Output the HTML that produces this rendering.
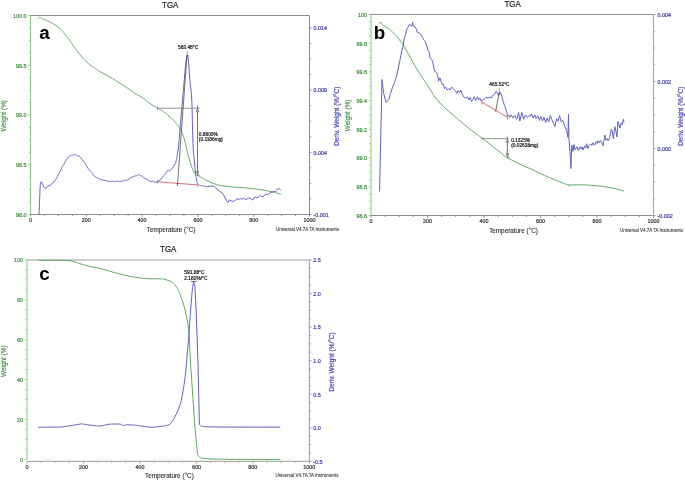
<!DOCTYPE html>
<html><head><meta charset="utf-8"><style>
html,body{margin:0;padding:0;background:#fff;}
svg{display:block;font-family:'Liberation Sans', sans-serif;will-change:transform;}
</style></head><body>
<svg width="685" height="481" viewBox="0 0 685 481">
<rect width="685" height="481" fill="#fff"/>
<line x1="30.50" y1="15.50" x2="309.50" y2="15.50" stroke="#8e8e8e" stroke-width="1"/>
<line x1="30.50" y1="214.50" x2="309.50" y2="214.50" stroke="#8e8e8e" stroke-width="1"/>
<line x1="30.50" y1="15.50" x2="30.50" y2="214.50" stroke="#8cc68c" stroke-width="1"/>
<line x1="309.50" y1="15.50" x2="309.50" y2="214.50" stroke="#8282c3" stroke-width="1"/>
<line x1="28.30" y1="15.50" x2="30.50" y2="15.50" stroke="#8cc68c" stroke-width="1"/>
<text x="0.00" y="0.00" font-size="5.9" fill="#3f8f3f" text-anchor="end" font-weight="normal" stroke="#3f8f3f" stroke-width="0.22" transform="translate(26.40 17.80) scale(0.915 1)">100.0</text>
<line x1="28.30" y1="65.25" x2="30.50" y2="65.25" stroke="#8cc68c" stroke-width="1"/>
<text x="0.00" y="0.00" font-size="5.9" fill="#3f8f3f" text-anchor="end" font-weight="normal" stroke="#3f8f3f" stroke-width="0.22" transform="translate(26.40 67.55) scale(0.915 1)">99.5</text>
<line x1="28.30" y1="115.00" x2="30.50" y2="115.00" stroke="#8cc68c" stroke-width="1"/>
<text x="0.00" y="0.00" font-size="5.9" fill="#3f8f3f" text-anchor="end" font-weight="normal" stroke="#3f8f3f" stroke-width="0.22" transform="translate(26.40 117.30) scale(0.915 1)">99.0</text>
<line x1="28.30" y1="164.75" x2="30.50" y2="164.75" stroke="#8cc68c" stroke-width="1"/>
<text x="0.00" y="0.00" font-size="5.9" fill="#3f8f3f" text-anchor="end" font-weight="normal" stroke="#3f8f3f" stroke-width="0.22" transform="translate(26.40 167.05) scale(0.915 1)">98.5</text>
<line x1="28.30" y1="214.50" x2="30.50" y2="214.50" stroke="#8cc68c" stroke-width="1"/>
<text x="0.00" y="0.00" font-size="5.9" fill="#3f8f3f" text-anchor="end" font-weight="normal" stroke="#3f8f3f" stroke-width="0.22" transform="translate(26.40 216.80) scale(0.915 1)">98.0</text>
<line x1="28.90" y1="27.94" x2="30.50" y2="27.94" stroke="#8cc68c" stroke-width="1"/>
<line x1="28.90" y1="40.38" x2="30.50" y2="40.38" stroke="#8cc68c" stroke-width="1"/>
<line x1="28.90" y1="52.81" x2="30.50" y2="52.81" stroke="#8cc68c" stroke-width="1"/>
<line x1="28.90" y1="77.69" x2="30.50" y2="77.69" stroke="#8cc68c" stroke-width="1"/>
<line x1="28.90" y1="90.12" x2="30.50" y2="90.12" stroke="#8cc68c" stroke-width="1"/>
<line x1="28.90" y1="102.56" x2="30.50" y2="102.56" stroke="#8cc68c" stroke-width="1"/>
<line x1="28.90" y1="127.44" x2="30.50" y2="127.44" stroke="#8cc68c" stroke-width="1"/>
<line x1="28.90" y1="139.88" x2="30.50" y2="139.88" stroke="#8cc68c" stroke-width="1"/>
<line x1="28.90" y1="152.31" x2="30.50" y2="152.31" stroke="#8cc68c" stroke-width="1"/>
<line x1="28.90" y1="177.19" x2="30.50" y2="177.19" stroke="#8cc68c" stroke-width="1"/>
<line x1="28.90" y1="189.62" x2="30.50" y2="189.62" stroke="#8cc68c" stroke-width="1"/>
<line x1="28.90" y1="202.06" x2="30.50" y2="202.06" stroke="#8cc68c" stroke-width="1"/>
<line x1="309.50" y1="27.94" x2="311.70" y2="27.94" stroke="#8282c3" stroke-width="1"/>
<text x="0.00" y="0.00" font-size="5.9" fill="#3b3ba0" text-anchor="start" font-weight="normal" stroke="#3b3ba0" stroke-width="0.22" transform="translate(313.40 30.24) scale(0.915 1)">0.014</text>
<line x1="309.50" y1="90.13" x2="311.70" y2="90.13" stroke="#8282c3" stroke-width="1"/>
<text x="0.00" y="0.00" font-size="5.9" fill="#3b3ba0" text-anchor="start" font-weight="normal" stroke="#3b3ba0" stroke-width="0.22" transform="translate(313.40 92.43) scale(0.915 1)">0.009</text>
<line x1="309.50" y1="152.31" x2="311.70" y2="152.31" stroke="#8282c3" stroke-width="1"/>
<text x="0.00" y="0.00" font-size="5.9" fill="#3b3ba0" text-anchor="start" font-weight="normal" stroke="#3b3ba0" stroke-width="0.22" transform="translate(313.40 154.61) scale(0.915 1)">0.004</text>
<line x1="309.50" y1="214.50" x2="311.70" y2="214.50" stroke="#8282c3" stroke-width="1"/>
<text x="0.00" y="0.00" font-size="5.9" fill="#3b3ba0" text-anchor="start" font-weight="normal" stroke="#3b3ba0" stroke-width="0.22" transform="translate(313.40 216.80) scale(0.915 1)">-0.001</text>
<line x1="309.50" y1="43.48" x2="311.10" y2="43.48" stroke="#8282c3" stroke-width="1"/>
<line x1="309.50" y1="59.03" x2="311.10" y2="59.03" stroke="#8282c3" stroke-width="1"/>
<line x1="309.50" y1="74.58" x2="311.10" y2="74.58" stroke="#8282c3" stroke-width="1"/>
<line x1="309.50" y1="105.67" x2="311.10" y2="105.67" stroke="#8282c3" stroke-width="1"/>
<line x1="309.50" y1="121.22" x2="311.10" y2="121.22" stroke="#8282c3" stroke-width="1"/>
<line x1="309.50" y1="136.77" x2="311.10" y2="136.77" stroke="#8282c3" stroke-width="1"/>
<line x1="309.50" y1="167.86" x2="311.10" y2="167.86" stroke="#8282c3" stroke-width="1"/>
<line x1="309.50" y1="183.41" x2="311.10" y2="183.41" stroke="#8282c3" stroke-width="1"/>
<line x1="309.50" y1="198.95" x2="311.10" y2="198.95" stroke="#8282c3" stroke-width="1"/>
<line x1="30.50" y1="214.50" x2="30.50" y2="216.70" stroke="#8e8e8e" stroke-width="1"/>
<text x="0.00" y="0.00" font-size="5.9" fill="#333" text-anchor="middle" font-weight="normal" stroke="#333" stroke-width="0.22" transform="translate(30.50 221.80) scale(0.915 1)">0</text>
<line x1="86.30" y1="214.50" x2="86.30" y2="216.70" stroke="#8e8e8e" stroke-width="1"/>
<text x="0.00" y="0.00" font-size="5.9" fill="#333" text-anchor="middle" font-weight="normal" stroke="#333" stroke-width="0.22" transform="translate(86.30 221.80) scale(0.915 1)">200</text>
<line x1="142.10" y1="214.50" x2="142.10" y2="216.70" stroke="#8e8e8e" stroke-width="1"/>
<text x="0.00" y="0.00" font-size="5.9" fill="#333" text-anchor="middle" font-weight="normal" stroke="#333" stroke-width="0.22" transform="translate(142.10 221.80) scale(0.915 1)">400</text>
<line x1="197.90" y1="214.50" x2="197.90" y2="216.70" stroke="#8e8e8e" stroke-width="1"/>
<text x="0.00" y="0.00" font-size="5.9" fill="#333" text-anchor="middle" font-weight="normal" stroke="#333" stroke-width="0.22" transform="translate(197.90 221.80) scale(0.915 1)">600</text>
<line x1="253.70" y1="214.50" x2="253.70" y2="216.70" stroke="#8e8e8e" stroke-width="1"/>
<text x="0.00" y="0.00" font-size="5.9" fill="#333" text-anchor="middle" font-weight="normal" stroke="#333" stroke-width="0.22" transform="translate(253.70 221.80) scale(0.915 1)">800</text>
<line x1="309.50" y1="214.50" x2="309.50" y2="216.70" stroke="#8e8e8e" stroke-width="1"/>
<text x="0.00" y="0.00" font-size="5.9" fill="#333" text-anchor="middle" font-weight="normal" stroke="#333" stroke-width="0.22" transform="translate(309.50 221.80) scale(0.915 1)">1000</text>
<line x1="44.45" y1="214.50" x2="44.45" y2="216.00" stroke="#8e8e8e" stroke-width="1"/>
<line x1="58.40" y1="214.50" x2="58.40" y2="216.00" stroke="#8e8e8e" stroke-width="1"/>
<line x1="72.35" y1="214.50" x2="72.35" y2="216.00" stroke="#8e8e8e" stroke-width="1"/>
<line x1="100.25" y1="214.50" x2="100.25" y2="216.00" stroke="#8e8e8e" stroke-width="1"/>
<line x1="114.20" y1="214.50" x2="114.20" y2="216.00" stroke="#8e8e8e" stroke-width="1"/>
<line x1="128.15" y1="214.50" x2="128.15" y2="216.00" stroke="#8e8e8e" stroke-width="1"/>
<line x1="156.05" y1="214.50" x2="156.05" y2="216.00" stroke="#8e8e8e" stroke-width="1"/>
<line x1="170.00" y1="214.50" x2="170.00" y2="216.00" stroke="#8e8e8e" stroke-width="1"/>
<line x1="183.95" y1="214.50" x2="183.95" y2="216.00" stroke="#8e8e8e" stroke-width="1"/>
<line x1="211.85" y1="214.50" x2="211.85" y2="216.00" stroke="#8e8e8e" stroke-width="1"/>
<line x1="225.80" y1="214.50" x2="225.80" y2="216.00" stroke="#8e8e8e" stroke-width="1"/>
<line x1="239.75" y1="214.50" x2="239.75" y2="216.00" stroke="#8e8e8e" stroke-width="1"/>
<line x1="267.65" y1="214.50" x2="267.65" y2="216.00" stroke="#8e8e8e" stroke-width="1"/>
<line x1="281.60" y1="214.50" x2="281.60" y2="216.00" stroke="#8e8e8e" stroke-width="1"/>
<line x1="295.55" y1="214.50" x2="295.55" y2="216.00" stroke="#8e8e8e" stroke-width="1"/>
<text x="170.20" y="7.90" font-size="8.4" fill="#222" text-anchor="middle" font-weight="normal" stroke="#222" stroke-width="0.22" textLength="16.3" lengthAdjust="spacingAndGlyphs">TGA</text>
<text x="39.20" y="38.70" font-size="18.8" fill="#000" text-anchor="start" font-weight="bold">a</text>
<text x="6.40" y="115.80" font-size="6.4" fill="#3f8f3f" text-anchor="middle" font-weight="normal" stroke="#3f8f3f" stroke-width="0.15" transform="rotate(-90 6.40 115.80)">Weight (%)</text>
<text x="339.00" y="116.30" font-size="6.5" fill="#3b3ba0" text-anchor="middle" font-weight="normal" stroke="#3b3ba0" stroke-width="0.15" transform="rotate(-90 339.00 116.30)">Deriv. Weight (%/°C)</text>
<text x="171.10" y="231.60" font-size="6.35" fill="#2a2a2a" text-anchor="middle" font-weight="normal" stroke="#2a2a2a" stroke-width="0.1">Temperature (°C)</text>
<text x="276.00" y="230.50" font-size="4.5" fill="#333" text-anchor="start" font-weight="normal" stroke="#333" stroke-width="0.08">Universal V4.7A TA Instruments</text>
<polyline points="38.50,18.40 38.60,18.28 38.74,18.11 38.90,17.91 39.07,17.71 39.25,17.53 39.40,17.40 39.52,17.30 39.62,17.20 39.71,17.13 39.83,17.10 39.98,17.11 40.20,17.20 40.47,17.37 40.76,17.61 41.09,17.91 41.48,18.24 41.94,18.58 42.50,18.90 43.18,19.21 43.97,19.53 44.83,19.85 45.73,20.19 46.64,20.53 47.50,20.90 48.33,21.28 49.17,21.67 50.01,22.08 50.84,22.50 51.67,22.94 52.50,23.40 53.34,23.88 54.18,24.39 55.02,24.91 55.85,25.44 56.65,25.98 57.40,26.50 58.10,27.00 58.75,27.49 59.38,27.97 59.98,28.47 60.59,29.01 61.20,29.60 61.82,30.25 62.44,30.95 63.05,31.69 63.66,32.45 64.28,33.22 64.90,34.00 65.53,34.78 66.16,35.57 66.80,36.38 67.44,37.20 68.07,38.04 68.70,38.90 69.32,39.80 69.94,40.74 70.56,41.69 71.17,42.65 71.78,43.59 72.40,44.50 73.02,45.37 73.63,46.21 74.24,47.04 74.86,47.86 75.48,48.67 76.10,49.50 76.73,50.34 77.36,51.19 78.00,52.04 78.64,52.88 79.27,53.70 79.90,54.50 80.52,55.28 81.14,56.04 81.75,56.78 82.36,57.51 82.98,58.21 83.60,58.90 84.23,59.56 84.86,60.21 85.50,60.83 86.14,61.44 86.77,62.03 87.40,62.60 88.02,63.16 88.64,63.71 89.25,64.24 89.86,64.76 90.48,65.24 91.10,65.70 91.74,66.12 92.40,66.50 93.07,66.86 93.72,67.21 94.33,67.55 94.90,67.90 95.35,68.23 95.67,68.52 95.97,68.81 96.31,69.13 96.80,69.52 97.50,70.00 98.50,70.62 99.73,71.36 101.10,72.16 102.50,72.97 103.84,73.74 105.00,74.40 105.94,74.92 106.73,75.34 107.45,75.71 108.18,76.09 109.00,76.54 110.00,77.10 111.19,77.80 112.52,78.58 113.94,79.43 115.41,80.32 116.88,81.22 118.30,82.10 119.68,82.97 121.07,83.86 122.45,84.75 123.83,85.66 125.22,86.57 126.60,87.50 127.98,88.45 129.36,89.43 130.74,90.42 132.13,91.41 133.51,92.38 134.90,93.30 136.31,94.18 137.76,95.02 139.20,95.84 140.62,96.65 142.00,97.46 143.30,98.30 144.51,99.16 145.63,100.04 146.71,100.92 147.77,101.80 148.86,102.67 150.00,103.50 151.22,104.31 152.49,105.11 153.78,105.89 155.07,106.66 156.32,107.39 157.50,108.10 158.61,108.75 159.66,109.35 160.68,109.92 161.68,110.50 162.68,111.12 163.70,111.80 164.75,112.56 165.81,113.37 166.87,114.22 167.92,115.09 168.94,115.95 169.90,116.80 170.82,117.63 171.70,118.47 172.55,119.30 173.37,120.13 174.15,120.97 174.90,121.80 175.62,122.64 176.30,123.49 176.96,124.34 177.57,125.18 178.16,126.00 178.70,126.80 179.19,127.55 179.63,128.24 180.03,128.93 180.41,129.62 180.80,130.37 181.20,131.20 181.62,132.10 182.04,133.04 182.46,134.03 182.87,135.08 183.29,136.20 183.70,137.40 184.12,138.73 184.55,140.20 184.97,141.74 185.39,143.28 185.76,144.75 186.10,146.10 186.37,147.27 186.57,148.32 186.74,149.30 186.92,150.28 187.13,151.33 187.40,152.50 187.75,153.83 188.14,155.27 188.58,156.78 189.02,158.30 189.47,159.79 189.90,161.20 190.32,162.55 190.73,163.88 191.15,165.18 191.57,166.43 191.98,167.61 192.40,168.70 192.82,169.72 193.23,170.67 193.65,171.56 194.07,172.36 194.48,173.08 194.90,173.70 195.29,174.18 195.64,174.51 195.99,174.76 196.38,174.97 196.84,175.20 197.40,175.50 198.08,175.87 198.86,176.26 199.70,176.67 200.59,177.10 201.50,177.54 202.40,178.00 203.31,178.49 204.24,179.01 205.19,179.55 206.16,180.09 207.13,180.61 208.10,181.10 209.06,181.56 210.00,182.00 210.95,182.42 211.92,182.83 212.93,183.22 214.00,183.60 215.07,183.97 216.11,184.32 217.20,184.66 218.39,184.99 219.73,185.30 221.30,185.60 223.15,185.88 225.23,186.16 227.48,186.41 229.81,186.66 232.14,186.88 234.40,187.10 236.60,187.29 238.80,187.45 241.00,187.59 243.20,187.74 245.40,187.90 247.60,188.10 249.79,188.32 251.97,188.56 254.16,188.81 256.34,189.09 258.52,189.38 260.70,189.70 262.96,190.05 265.31,190.44 267.66,190.86 269.91,191.28 271.99,191.70 273.80,192.10 275.35,192.52 276.73,192.96 277.92,193.40 278.93,193.81 279.76,194.15 280.40,194.40" fill="none" stroke="#62a866" stroke-width="1" stroke-linejoin="round" stroke-linecap="round"/>
<polyline points="39.10,213.98 39.15,212.51 39.23,210.58 39.31,207.86 39.41,205.19 39.51,202.54 39.60,199.84 39.69,197.55 39.79,195.02 39.88,192.51 39.98,189.71 40.09,187.64 40.20,185.80 40.32,184.89 40.46,183.93 40.60,182.99 40.74,183.04 40.88,182.72 41.00,182.28 41.11,182.04 41.21,181.75 41.31,181.73 41.40,182.10 41.50,181.99 41.60,182.15 41.70,182.20 41.80,182.11 41.90,182.35 42.01,182.41 42.14,182.78 42.30,182.91 42.49,183.44 42.70,184.01 42.92,184.82 43.17,185.46 43.43,186.05 43.70,186.95 43.99,187.38 44.30,187.68 44.62,187.94 44.95,187.99 45.28,188.11 45.60,188.19 45.92,188.00 46.25,188.13 46.58,187.64 46.90,187.51 47.21,186.94 47.50,186.93 47.77,186.60 48.02,185.89 48.26,185.71 48.49,185.81 48.70,185.39 48.90,185.54 49.06,185.28 49.18,185.29 49.29,185.79 49.41,186.07 49.57,185.93 49.80,185.79 50.12,185.66 50.51,185.57 50.94,184.96 51.39,184.11 51.82,183.68 52.20,183.20 52.53,182.89 52.84,183.04 53.13,182.55 53.41,182.56 53.70,182.27 54.00,181.85 54.32,181.73 54.64,180.97 54.97,180.73 55.30,179.96 55.61,179.62 55.90,179.06 56.16,178.67 56.40,178.64 56.63,178.18 56.85,177.55 57.07,177.43 57.30,176.66 57.53,176.26 57.75,175.96 57.97,175.30 58.20,174.47 58.44,174.37 58.70,173.46 58.99,173.00 59.30,172.81 59.62,172.15 59.95,171.68 60.28,171.06 60.60,170.50 60.92,170.05 61.24,169.08 61.56,168.42 61.87,167.47 62.19,166.74 62.50,166.33 62.80,165.58 63.10,165.22 63.40,165.03 63.70,164.36 64.00,163.98 64.30,163.90 64.61,163.30 64.93,162.39 65.24,161.69 65.56,161.30 65.88,160.78 66.20,159.85 66.52,159.74 66.83,159.27 67.15,158.73 67.47,158.27 67.78,157.75 68.10,157.37 68.41,157.48 68.72,156.78 69.02,156.68 69.34,156.16 69.66,156.18 70.00,155.85 70.35,155.54 70.72,155.37 71.09,155.58 71.48,155.20 71.88,155.23 72.30,155.33 72.74,155.38 73.21,155.13 73.69,154.85 74.18,155.06 74.65,154.65 75.10,154.56 75.53,154.77 75.95,155.02 76.36,155.02 76.76,155.29 77.14,155.59 77.50,155.84 77.82,155.68 78.11,155.80 78.38,156.05 78.65,156.11 78.95,156.05 79.30,156.30 79.71,156.62 80.16,156.91 80.64,157.44 81.13,158.05 81.62,159.12 82.10,159.60 82.58,160.28 83.07,160.36 83.56,161.22 84.03,161.69 84.49,162.37 84.90,162.71 85.27,163.60 85.60,163.69 85.91,164.48 86.20,165.13 86.49,165.76 86.80,166.22 87.11,166.74 87.40,167.33 87.69,167.93 88.00,168.19 88.33,168.88 88.70,169.50 89.12,169.98 89.59,170.24 90.08,170.90 90.57,171.40 91.05,171.74 91.50,172.26 91.91,172.67 92.30,173.33 92.68,173.92 93.04,174.21 93.42,175.01 93.80,175.65 94.18,175.98 94.53,176.24 94.89,176.37 95.28,176.82 95.71,177.03 96.20,177.27 96.77,177.81 97.39,177.78 98.06,178.48 98.76,178.46 99.47,179.07 100.20,179.29 100.94,179.40 101.72,179.83 102.51,179.90 103.31,180.12 104.11,180.43 104.90,180.28 105.70,180.37 106.52,180.76 107.34,181.20 108.13,181.18 108.86,181.34 109.50,181.80 110.03,181.67 110.47,181.46 110.84,181.53 111.19,181.09 111.53,181.13 111.90,180.85 112.29,181.01 112.67,181.31 113.06,181.51 113.44,181.63 113.82,181.50 114.20,181.64 114.58,181.46 114.96,181.26 115.34,181.30 115.73,181.32 116.11,181.22 116.50,181.11 116.88,181.27 117.25,181.04 117.62,181.13 118.01,181.42 118.44,181.44 118.90,181.46 119.43,181.53 120.03,181.55 120.66,181.37 121.28,181.15 121.87,181.28 122.40,181.24 122.84,180.88 123.21,180.58 123.55,180.46 123.89,180.78 124.26,180.26 124.70,180.50 125.23,180.37 125.82,180.20 126.44,180.41 127.07,179.96 127.67,179.91 128.20,179.88 128.65,179.36 129.04,179.36 129.40,178.61 129.76,178.09 130.15,177.62 130.60,177.56 131.13,177.21 131.73,177.08 132.36,176.92 132.98,176.84 133.57,176.77 134.10,176.49 134.55,176.13 134.96,176.17 135.32,175.95 135.68,175.78 136.03,175.92 136.40,175.91 136.78,175.45 137.16,175.24 137.54,175.01 137.93,174.94 138.31,174.68 138.70,174.66 139.08,174.78 139.45,174.73 139.82,175.13 140.21,175.43 140.64,175.30 141.10,176.02 141.62,176.24 142.19,176.32 142.78,176.89 143.39,177.39 144.00,177.94 144.60,178.04 145.20,178.47 145.83,178.95 146.45,179.21 147.05,179.58 147.61,179.62 148.10,179.98 148.53,180.01 148.92,180.53 149.27,180.82 149.57,180.95 149.81,181.17 150.00,181.48 150.45,181.51 151.09,181.47 151.82,181.16 152.50,181.40 153.12,181.29 153.75,182.01 154.38,182.27 155.00,182.09 155.62,181.94 156.25,182.14 156.88,182.07 157.50,181.99 158.12,181.44 158.75,180.65 159.38,180.67 160.00,179.59 160.62,179.54 161.25,178.50 161.88,177.97 162.50,177.60 163.12,176.43 163.75,175.68 164.38,175.14 165.00,174.46 165.64,173.55 166.29,172.35 166.92,171.55 167.50,170.59 168.00,170.82 168.44,170.50 168.86,170.93 169.30,171.22 169.75,170.78 170.21,170.64 170.68,170.02 171.20,169.32 171.80,168.86 172.45,167.90 173.10,166.91 173.70,166.12 174.23,165.59 174.73,164.75 175.19,163.33 175.60,162.75 175.98,161.55 176.32,159.79 176.60,158.48 176.80,157.50 176.95,156.66 177.16,155.46 177.41,154.06 177.67,152.59 177.91,151.19 178.10,150.00 178.20,149.48 178.23,149.63 178.24,149.84 178.29,149.54 178.42,148.12 178.70,145.00 179.17,139.48 179.81,131.90 180.54,123.21 181.29,114.36 181.96,106.31 182.50,100.00 182.88,95.64 183.17,92.50 183.39,90.15 183.58,88.17 183.77,86.13 184.00,83.60 184.26,80.54 184.51,77.27 184.77,73.94 185.04,70.70 185.31,67.67 185.60,65.00 185.91,62.51 186.24,60.06 186.57,57.82 186.91,55.99 187.22,54.75 187.50,54.30 187.74,54.75 187.94,55.99 188.12,57.82 188.30,60.06 188.49,62.51 188.70,65.00 188.93,67.67 189.17,70.70 189.43,73.94 189.68,77.27 189.94,80.54 190.20,83.60 190.47,86.13 190.74,88.17 191.02,90.15 191.29,92.50 191.56,95.64 191.80,100.00 192.02,106.19 192.23,113.99 192.42,122.59 192.61,131.16 192.80,138.91 193.00,145.00 193.21,149.25 193.43,152.27 193.65,154.46 193.87,156.21 194.09,157.92 194.30,160.00 194.51,162.47 194.73,165.03 194.94,167.56 195.15,169.92 195.34,172.01 195.50,173.70 195.63,174.88 195.73,175.63 195.81,176.09 195.89,176.44 195.98,176.82 196.10,177.40 196.24,178.19 196.39,179.06 196.54,179.97 196.71,180.87 196.90,181.70 197.10,182.40 197.32,182.98 197.56,183.49 197.81,183.92 198.07,184.30 198.33,184.62 198.60,184.90 198.85,185.11 199.07,185.24 199.30,185.31 199.56,185.36 199.89,185.42 200.30,185.50 200.82,185.61 201.44,185.74 202.11,185.86 202.82,185.99 203.52,186.10 204.20,186.20 204.90,186.29 205.64,186.37 206.39,186.44 207.09,186.51 207.68,186.56 208.10,186.60 210.00,186.00 212.10,186.40 213.80,186.10 215.40,187.50 217.00,189.00 218.70,190.80 220.60,192.00 222.60,193.40 224.00,195.80 225.20,198.00 226.60,200.80 227.90,202.60 229.00,200.30 229.80,200.00 231.00,201.20 231.80,200.60 233.20,201.60 234.40,201.00 235.60,199.80 237.00,198.70 238.40,199.60 240.30,198.50 242.00,199.20 243.60,198.00 245.20,199.50 246.90,199.10 248.60,198.00 250.20,198.20 251.50,199.40 252.80,200.00 254.00,197.80 254.80,196.70 256.50,197.90 258.10,197.30 259.50,196.20 260.70,195.40 262.00,196.90 263.30,196.70 264.60,195.00 266.00,194.00 267.30,194.60 268.60,194.00 270.00,192.60 271.20,192.10 272.50,192.40 273.80,191.40 275.20,191.60 276.50,190.80 277.50,189.00 278.40,188.10 279.40,188.90 280.40,190.10" fill="none" stroke="#6262bc" stroke-width="1" stroke-linejoin="round" stroke-linecap="round"/>
<line x1="157.50" y1="108.20" x2="199.80" y2="108.20" stroke="#8a8a8a" stroke-width="0.9"/>
<line x1="157.50" y1="106.40" x2="157.50" y2="110.00" stroke="#888" stroke-width="0.8"/>
<line x1="197.50" y1="105.30" x2="197.50" y2="175.30" stroke="#666" stroke-width="0.9"/>
<path d="M196.0,112.0 L197.5,107.8 L199.0,112.0 Z" fill="#999" stroke="#777" stroke-width="0.5"/>
<path d="M196.0,171.2 L197.5,175.3 L199.0,171.2 Z" fill="#999" stroke="#777" stroke-width="0.5"/>
<line x1="197.00" y1="175.30" x2="200.00" y2="175.30" stroke="#777" stroke-width="0.7"/>
<line x1="157.50" y1="181.80" x2="197.40" y2="184.90" stroke="#d06060" stroke-width="0.9"/>
<line x1="157.50" y1="180.00" x2="157.50" y2="183.60" stroke="#d06060" stroke-width="0.8"/>
<line x1="197.40" y1="183.10" x2="197.40" y2="186.70" stroke="#d06060" stroke-width="0.8"/>
<line x1="177.40" y1="186.00" x2="187.00" y2="55.00" stroke="#333" stroke-width="0.7"/>
<line x1="187.30" y1="51.00" x2="187.30" y2="54.00" stroke="#ee7070" stroke-width="0.9"/>
<text x="188.10" y="48.60" font-size="4.85" fill="#222" text-anchor="middle" font-weight="normal" stroke="#222" stroke-width="0.22">563.48°C</text>
<text x="198.80" y="135.80" font-size="4.8" fill="#222" text-anchor="start" font-weight="normal" stroke="#222" stroke-width="0.22">0.8800%</text>
<text x="198.80" y="140.60" font-size="4.8" fill="#222" text-anchor="start" font-weight="normal" stroke="#222" stroke-width="0.22">(0.1186mg)</text>
<line x1="371.00" y1="14.50" x2="653.50" y2="14.50" stroke="#8e8e8e" stroke-width="1"/>
<line x1="371.00" y1="215.50" x2="653.50" y2="215.50" stroke="#8e8e8e" stroke-width="1"/>
<line x1="371.00" y1="14.50" x2="371.00" y2="215.50" stroke="#8cc68c" stroke-width="1"/>
<line x1="653.50" y1="14.50" x2="653.50" y2="215.50" stroke="#a0a0c8" stroke-width="1"/>
<line x1="368.80" y1="14.50" x2="371.00" y2="14.50" stroke="#8cc68c" stroke-width="1"/>
<text x="0.00" y="0.00" font-size="5.9" fill="#3f8f3f" text-anchor="end" font-weight="normal" stroke="#3f8f3f" stroke-width="0.22" transform="translate(366.90 16.80) scale(0.915 1)">100</text>
<line x1="368.80" y1="43.21" x2="371.00" y2="43.21" stroke="#8cc68c" stroke-width="1"/>
<text x="0.00" y="0.00" font-size="5.9" fill="#3f8f3f" text-anchor="end" font-weight="normal" stroke="#3f8f3f" stroke-width="0.22" transform="translate(366.90 45.51) scale(0.915 1)">99.8</text>
<line x1="368.80" y1="71.93" x2="371.00" y2="71.93" stroke="#8cc68c" stroke-width="1"/>
<text x="0.00" y="0.00" font-size="5.9" fill="#3f8f3f" text-anchor="end" font-weight="normal" stroke="#3f8f3f" stroke-width="0.22" transform="translate(366.90 74.23) scale(0.915 1)">99.6</text>
<line x1="368.80" y1="100.64" x2="371.00" y2="100.64" stroke="#8cc68c" stroke-width="1"/>
<text x="0.00" y="0.00" font-size="5.9" fill="#3f8f3f" text-anchor="end" font-weight="normal" stroke="#3f8f3f" stroke-width="0.22" transform="translate(366.90 102.94) scale(0.915 1)">99.4</text>
<line x1="368.80" y1="129.36" x2="371.00" y2="129.36" stroke="#8cc68c" stroke-width="1"/>
<text x="0.00" y="0.00" font-size="5.9" fill="#3f8f3f" text-anchor="end" font-weight="normal" stroke="#3f8f3f" stroke-width="0.22" transform="translate(366.90 131.66) scale(0.915 1)">99.2</text>
<line x1="368.80" y1="158.07" x2="371.00" y2="158.07" stroke="#8cc68c" stroke-width="1"/>
<text x="0.00" y="0.00" font-size="5.9" fill="#3f8f3f" text-anchor="end" font-weight="normal" stroke="#3f8f3f" stroke-width="0.22" transform="translate(366.90 160.37) scale(0.915 1)">99.0</text>
<line x1="368.80" y1="186.79" x2="371.00" y2="186.79" stroke="#8cc68c" stroke-width="1"/>
<text x="0.00" y="0.00" font-size="5.9" fill="#3f8f3f" text-anchor="end" font-weight="normal" stroke="#3f8f3f" stroke-width="0.22" transform="translate(366.90 189.09) scale(0.915 1)">98.8</text>
<line x1="368.80" y1="215.50" x2="371.00" y2="215.50" stroke="#8cc68c" stroke-width="1"/>
<text x="0.00" y="0.00" font-size="5.9" fill="#3f8f3f" text-anchor="end" font-weight="normal" stroke="#3f8f3f" stroke-width="0.22" transform="translate(366.90 217.80) scale(0.915 1)">98.6</text>
<line x1="369.40" y1="21.68" x2="371.00" y2="21.68" stroke="#8cc68c" stroke-width="1"/>
<line x1="369.40" y1="28.86" x2="371.00" y2="28.86" stroke="#8cc68c" stroke-width="1"/>
<line x1="369.40" y1="36.04" x2="371.00" y2="36.04" stroke="#8cc68c" stroke-width="1"/>
<line x1="369.40" y1="50.39" x2="371.00" y2="50.39" stroke="#8cc68c" stroke-width="1"/>
<line x1="369.40" y1="57.57" x2="371.00" y2="57.57" stroke="#8cc68c" stroke-width="1"/>
<line x1="369.40" y1="64.75" x2="371.00" y2="64.75" stroke="#8cc68c" stroke-width="1"/>
<line x1="369.40" y1="79.11" x2="371.00" y2="79.11" stroke="#8cc68c" stroke-width="1"/>
<line x1="369.40" y1="86.29" x2="371.00" y2="86.29" stroke="#8cc68c" stroke-width="1"/>
<line x1="369.40" y1="93.46" x2="371.00" y2="93.46" stroke="#8cc68c" stroke-width="1"/>
<line x1="369.40" y1="107.82" x2="371.00" y2="107.82" stroke="#8cc68c" stroke-width="1"/>
<line x1="369.40" y1="115.00" x2="371.00" y2="115.00" stroke="#8cc68c" stroke-width="1"/>
<line x1="369.40" y1="122.18" x2="371.00" y2="122.18" stroke="#8cc68c" stroke-width="1"/>
<line x1="369.40" y1="136.54" x2="371.00" y2="136.54" stroke="#8cc68c" stroke-width="1"/>
<line x1="369.40" y1="143.71" x2="371.00" y2="143.71" stroke="#8cc68c" stroke-width="1"/>
<line x1="369.40" y1="150.89" x2="371.00" y2="150.89" stroke="#8cc68c" stroke-width="1"/>
<line x1="369.40" y1="165.25" x2="371.00" y2="165.25" stroke="#8cc68c" stroke-width="1"/>
<line x1="369.40" y1="172.43" x2="371.00" y2="172.43" stroke="#8cc68c" stroke-width="1"/>
<line x1="369.40" y1="179.61" x2="371.00" y2="179.61" stroke="#8cc68c" stroke-width="1"/>
<line x1="369.40" y1="193.96" x2="371.00" y2="193.96" stroke="#8cc68c" stroke-width="1"/>
<line x1="369.40" y1="201.14" x2="371.00" y2="201.14" stroke="#8cc68c" stroke-width="1"/>
<line x1="369.40" y1="208.32" x2="371.00" y2="208.32" stroke="#8cc68c" stroke-width="1"/>
<line x1="653.50" y1="14.50" x2="655.70" y2="14.50" stroke="#a0a0c8" stroke-width="1"/>
<text x="0.00" y="0.00" font-size="5.9" fill="#3b3ba0" text-anchor="start" font-weight="normal" stroke="#3b3ba0" stroke-width="0.22" transform="translate(657.40 16.80) scale(0.915 1)">0.004</text>
<line x1="653.50" y1="81.50" x2="655.70" y2="81.50" stroke="#a0a0c8" stroke-width="1"/>
<text x="0.00" y="0.00" font-size="5.9" fill="#3b3ba0" text-anchor="start" font-weight="normal" stroke="#3b3ba0" stroke-width="0.22" transform="translate(657.40 83.80) scale(0.915 1)">0.002</text>
<line x1="653.50" y1="148.50" x2="655.70" y2="148.50" stroke="#a0a0c8" stroke-width="1"/>
<text x="0.00" y="0.00" font-size="5.9" fill="#3b3ba0" text-anchor="start" font-weight="normal" stroke="#3b3ba0" stroke-width="0.22" transform="translate(657.40 150.80) scale(0.915 1)">0.000</text>
<line x1="653.50" y1="215.50" x2="655.70" y2="215.50" stroke="#a0a0c8" stroke-width="1"/>
<text x="0.00" y="0.00" font-size="5.9" fill="#3b3ba0" text-anchor="start" font-weight="normal" stroke="#3b3ba0" stroke-width="0.22" transform="translate(657.40 217.80) scale(0.915 1)">-0.002</text>
<line x1="653.50" y1="31.25" x2="655.10" y2="31.25" stroke="#a0a0c8" stroke-width="1"/>
<line x1="653.50" y1="48.00" x2="655.10" y2="48.00" stroke="#a0a0c8" stroke-width="1"/>
<line x1="653.50" y1="64.75" x2="655.10" y2="64.75" stroke="#a0a0c8" stroke-width="1"/>
<line x1="653.50" y1="98.25" x2="655.10" y2="98.25" stroke="#a0a0c8" stroke-width="1"/>
<line x1="653.50" y1="115.00" x2="655.10" y2="115.00" stroke="#a0a0c8" stroke-width="1"/>
<line x1="653.50" y1="131.75" x2="655.10" y2="131.75" stroke="#a0a0c8" stroke-width="1"/>
<line x1="653.50" y1="165.25" x2="655.10" y2="165.25" stroke="#a0a0c8" stroke-width="1"/>
<line x1="653.50" y1="182.00" x2="655.10" y2="182.00" stroke="#a0a0c8" stroke-width="1"/>
<line x1="653.50" y1="198.75" x2="655.10" y2="198.75" stroke="#a0a0c8" stroke-width="1"/>
<line x1="371.00" y1="215.50" x2="371.00" y2="217.70" stroke="#8e8e8e" stroke-width="1"/>
<text x="0.00" y="0.00" font-size="5.9" fill="#333" text-anchor="middle" font-weight="normal" stroke="#333" stroke-width="0.22" transform="translate(371.00 222.80) scale(0.915 1)">0</text>
<line x1="427.50" y1="215.50" x2="427.50" y2="217.70" stroke="#8e8e8e" stroke-width="1"/>
<text x="0.00" y="0.00" font-size="5.9" fill="#333" text-anchor="middle" font-weight="normal" stroke="#333" stroke-width="0.22" transform="translate(427.50 222.80) scale(0.915 1)">200</text>
<line x1="484.00" y1="215.50" x2="484.00" y2="217.70" stroke="#8e8e8e" stroke-width="1"/>
<text x="0.00" y="0.00" font-size="5.9" fill="#333" text-anchor="middle" font-weight="normal" stroke="#333" stroke-width="0.22" transform="translate(484.00 222.80) scale(0.915 1)">400</text>
<line x1="540.50" y1="215.50" x2="540.50" y2="217.70" stroke="#8e8e8e" stroke-width="1"/>
<text x="0.00" y="0.00" font-size="5.9" fill="#333" text-anchor="middle" font-weight="normal" stroke="#333" stroke-width="0.22" transform="translate(540.50 222.80) scale(0.915 1)">600</text>
<line x1="597.00" y1="215.50" x2="597.00" y2="217.70" stroke="#8e8e8e" stroke-width="1"/>
<text x="0.00" y="0.00" font-size="5.9" fill="#333" text-anchor="middle" font-weight="normal" stroke="#333" stroke-width="0.22" transform="translate(597.00 222.80) scale(0.915 1)">800</text>
<line x1="653.50" y1="215.50" x2="653.50" y2="217.70" stroke="#8e8e8e" stroke-width="1"/>
<text x="0.00" y="0.00" font-size="5.9" fill="#333" text-anchor="middle" font-weight="normal" stroke="#333" stroke-width="0.22" transform="translate(653.50 222.80) scale(0.915 1)">1000</text>
<line x1="385.12" y1="215.50" x2="385.12" y2="217.00" stroke="#8e8e8e" stroke-width="1"/>
<line x1="399.25" y1="215.50" x2="399.25" y2="217.00" stroke="#8e8e8e" stroke-width="1"/>
<line x1="413.38" y1="215.50" x2="413.38" y2="217.00" stroke="#8e8e8e" stroke-width="1"/>
<line x1="441.62" y1="215.50" x2="441.62" y2="217.00" stroke="#8e8e8e" stroke-width="1"/>
<line x1="455.75" y1="215.50" x2="455.75" y2="217.00" stroke="#8e8e8e" stroke-width="1"/>
<line x1="469.88" y1="215.50" x2="469.88" y2="217.00" stroke="#8e8e8e" stroke-width="1"/>
<line x1="498.12" y1="215.50" x2="498.12" y2="217.00" stroke="#8e8e8e" stroke-width="1"/>
<line x1="512.25" y1="215.50" x2="512.25" y2="217.00" stroke="#8e8e8e" stroke-width="1"/>
<line x1="526.38" y1="215.50" x2="526.38" y2="217.00" stroke="#8e8e8e" stroke-width="1"/>
<line x1="554.62" y1="215.50" x2="554.62" y2="217.00" stroke="#8e8e8e" stroke-width="1"/>
<line x1="568.75" y1="215.50" x2="568.75" y2="217.00" stroke="#8e8e8e" stroke-width="1"/>
<line x1="582.88" y1="215.50" x2="582.88" y2="217.00" stroke="#8e8e8e" stroke-width="1"/>
<line x1="611.12" y1="215.50" x2="611.12" y2="217.00" stroke="#8e8e8e" stroke-width="1"/>
<line x1="625.25" y1="215.50" x2="625.25" y2="217.00" stroke="#8e8e8e" stroke-width="1"/>
<line x1="639.38" y1="215.50" x2="639.38" y2="217.00" stroke="#8e8e8e" stroke-width="1"/>
<text x="512.60" y="7.00" font-size="8.4" fill="#222" text-anchor="middle" font-weight="normal" stroke="#222" stroke-width="0.22" textLength="16.3" lengthAdjust="spacingAndGlyphs">TGA</text>
<text x="373.80" y="38.70" font-size="18.8" fill="#000" text-anchor="start" font-weight="bold">b</text>
<text x="349.60" y="115.40" font-size="6.4" fill="#3f8f3f" text-anchor="middle" font-weight="normal" stroke="#3f8f3f" stroke-width="0.15" transform="rotate(-90 349.60 115.40)">Weight (%)</text>
<text x="682.60" y="116.30" font-size="6.5" fill="#3b3ba0" text-anchor="middle" font-weight="normal" stroke="#3b3ba0" stroke-width="0.15" transform="rotate(-90 682.60 116.30)">Deriv. Weight (%/°C)</text>
<text x="513.50" y="232.60" font-size="6.35" fill="#2a2a2a" text-anchor="middle" font-weight="normal" stroke="#2a2a2a" stroke-width="0.1">Temperature (°C)</text>
<text x="619.90" y="232.20" font-size="4.5" fill="#333" text-anchor="start" font-weight="normal" stroke="#333" stroke-width="0.08">Universal V4.7A TA Instruments</text>
<polyline points="379.30,23.00 379.47,22.59 379.75,22.07 380.20,22.00 380.89,22.77 381.75,24.00 382.70,25.10 383.74,25.84 384.87,26.47 386.00,27.10 387.10,27.76 388.20,28.44 389.30,29.20 390.40,30.09 391.49,31.07 392.60,32.10 393.73,33.17 394.87,34.30 396.00,35.50 397.11,36.80 398.20,38.17 399.30,39.60 400.40,41.07 401.50,42.59 402.60,44.20 403.72,45.96 404.84,47.80 405.90,49.60 406.89,51.33 407.82,53.02 408.70,54.60 409.50,55.99 410.25,57.27 411.00,58.60 411.70,59.97 412.39,61.40 413.30,63.10 414.56,65.23 416.04,67.63 417.50,70.00 418.87,72.24 420.23,74.46 421.60,76.60 423.00,78.63 424.40,80.59 425.80,82.60 427.22,84.80 428.63,87.05 429.90,89.10 430.98,90.86 431.93,92.41 432.80,93.80 433.48,94.87 434.09,95.77 435.00,97.00 436.46,98.87 438.23,101.06 440.00,103.10 441.67,104.81 443.33,106.37 445.00,107.90 446.67,109.43 448.34,110.93 450.00,112.40 451.64,113.82 453.26,115.21 454.90,116.60 456.56,118.00 458.23,119.40 459.90,120.80 461.56,122.20 463.23,123.61 464.90,125.00 466.60,126.39 468.30,127.76 470.00,129.10 471.67,130.39 473.34,131.65 475.00,132.90 476.67,134.14 478.33,135.36 480.00,136.60 481.67,137.86 483.34,139.14 485.00,140.40 486.64,141.62 488.26,142.83 489.90,144.10 491.56,145.48 493.23,146.92 494.90,148.30 496.60,149.57 498.29,150.79 499.90,152.00 501.42,153.31 502.86,154.61 504.10,155.70 504.84,156.32 505.40,156.72 506.60,157.40 508.87,158.59 511.79,160.05 514.90,161.60 518.29,163.32 521.87,165.13 524.90,166.60 526.83,167.37 528.21,167.80 530.00,168.50 532.66,169.77 535.74,171.30 538.80,172.80 541.70,174.17 544.60,175.51 547.50,176.80 550.40,178.03 553.31,179.21 556.30,180.40 559.63,181.73 563.04,183.07 565.80,184.10 567.30,184.65 568.14,184.89 569.40,185.00 571.40,185.00 573.80,184.87 576.70,184.80 580.33,184.84 584.45,184.94 588.40,185.10 591.91,185.34 595.26,185.64 598.60,186.00 602.05,186.41 605.50,186.89 608.80,187.40 611.95,187.97 614.94,188.59 617.60,189.20 619.97,189.87 622.01,190.53 623.40,191.00" fill="none" stroke="#62a866" stroke-width="1" stroke-linejoin="round" stroke-linecap="round"/>
<line x1="569.30" y1="184.80" x2="569.30" y2="186.80" stroke="#62a866" stroke-width="0.8"/>
<polyline points="379.60,191.60 382.00,79.50 383.60,93.00 386.00,102.40 388.70,99.80 390.50,93.50 392.50,87.30 394.50,82.50 396.20,77.40 398.00,69.50 400.00,59.90 401.80,51.00 403.30,45.30 404.20,38.50 405.50,35.30 406.40,30.30 408.00,27.20 409.50,24.40 410.80,25.40 411.70,26.30 412.70,22.20 413.00,26.00 413.90,26.30 415.50,27.50 416.40,29.40 417.00,32.20 418.00,32.50 419.80,33.50 421.40,35.30 422.60,37.80 424.20,40.30 425.80,42.80 427.00,46.80 428.00,50.10 429.10,52.20 430.10,58.20 431.80,59.60 433.10,63.60 434.50,71.10 436.50,72.40 437.80,75.80 438.50,81.20 439.90,77.80 441.20,81.90 442.30,84.60 443.20,83.90 444.60,88.60 445.90,87.30 447.30,90.00 448.60,88.60 450.00,90.00 451.40,87.30 453.40,88.60 455.40,90.70 456.80,93.40 458.10,90.70 459.50,92.70 460.80,90.00 462.20,94.10 464.20,97.40 466.20,98.10 467.60,96.80 468.90,100.10 470.30,97.40 471.60,101.50 473.00,99.50 474.30,96.80 475.70,100.50 476.60,98.70 477.50,96.80 478.70,100.00 480.00,98.10 481.20,101.20 482.50,100.00 484.40,98.70 486.20,97.40 488.10,98.10 490.00,96.80 491.20,98.10 492.50,95.60 493.70,95.00 495.00,93.70 496.20,91.20 497.40,93.10 498.70,95.60 499.60,91.80 500.60,92.50 501.80,96.80 503.10,101.20 504.30,104.90 505.50,108.00 506.80,112.40 507.40,116.10 508.70,114.90 509.90,117.40 511.20,114.90 513.00,118.00 514.90,115.50 516.80,119.30 518.60,112.40 519.90,121.10 521.80,112.40 523.60,119.30 525.50,114.90 527.40,117.40 529.20,115.50 530.20,116.50 531.60,114.00 533.10,117.90 534.70,114.80 536.20,118.70 537.80,115.60 539.40,120.30 540.90,116.40 542.50,121.10 544.00,117.20 545.60,122.60 547.20,117.90 548.70,121.80 550.30,115.60 551.80,119.50 553.40,123.40 555.00,126.50 556.50,118.70 558.10,121.10 559.60,115.60 561.20,121.80 562.80,120.30 564.30,125.00 565.90,128.90 567.10,132.00 567.90,137.40 568.50,114.00 569.00,139.00 570.20,154.60 570.90,168.60 571.80,145.20 572.90,151.50 574.00,144.50 575.20,149.90 576.80,146.80 578.40,150.70 579.90,146.80 581.00,149.00 582.10,146.90 583.10,150.00 584.70,145.90 585.70,147.90 586.80,143.80 587.80,148.50 589.40,145.30 590.90,143.80 592.00,145.30 593.00,142.70 594.60,145.30 596.10,141.70 597.20,143.30 598.20,140.70 599.20,142.70 600.30,140.70 601.30,141.20 602.90,145.90 603.90,141.20 604.90,135.00 606.00,140.10 607.20,138.60 608.10,140.70 609.60,138.10 611.20,129.20 612.20,130.80 613.30,138.60 614.80,126.60 615.90,130.80 616.90,137.00 618.00,121.40 619.00,124.60 620.00,128.20 621.10,123.00 622.10,124.60 623.50,119.40 623.90,122.50" fill="none" stroke="#6262bc" stroke-width="1" stroke-linejoin="round"/>
<line x1="481.90" y1="102.20" x2="507.70" y2="117.40" stroke="#d06060" stroke-width="0.9"/>
<line x1="481.90" y1="100.20" x2="481.90" y2="104.40" stroke="#d06060" stroke-width="0.8"/>
<line x1="507.70" y1="115.30" x2="507.70" y2="119.50" stroke="#d06060" stroke-width="0.8"/>
<line x1="495.60" y1="111.80" x2="499.30" y2="92.50" stroke="#333" stroke-width="0.7"/>
<line x1="499.30" y1="88.10" x2="499.30" y2="91.80" stroke="#ee7070" stroke-width="0.9"/>
<text x="499.50" y="85.60" font-size="4.85" fill="#222" text-anchor="middle" font-weight="normal" stroke="#222" stroke-width="0.22">465.52°C</text>
<line x1="482.00" y1="138.60" x2="508.60" y2="138.60" stroke="#8a8a8a" stroke-width="0.9"/>
<line x1="482.00" y1="137.00" x2="482.00" y2="140.20" stroke="#888" stroke-width="0.8"/>
<line x1="507.40" y1="136.80" x2="507.40" y2="157.40" stroke="#666" stroke-width="0.9"/>
<path d="M505.9,142.6 L507.4,138.6 L508.9,142.6 Z" fill="#999" stroke="#777" stroke-width="0.5"/>
<path d="M505.9,153.4 L507.4,157.4 L508.9,153.4 Z" fill="#999" stroke="#777" stroke-width="0.5"/>
<line x1="507.00" y1="157.40" x2="509.80" y2="157.40" stroke="#777" stroke-width="0.7"/>
<text x="511.20" y="141.80" font-size="4.8" fill="#222" text-anchor="start" font-weight="normal" stroke="#222" stroke-width="0.22">0.1325%</text>
<text x="511.20" y="147.30" font-size="4.8" fill="#222" text-anchor="start" font-weight="normal" stroke="#222" stroke-width="0.22">(0.02638mg)</text>
<line x1="27.00" y1="260.00" x2="309.30" y2="260.00" stroke="#9a9a9a" stroke-width="1"/>
<line x1="27.00" y1="461.30" x2="309.30" y2="461.30" stroke="#9a9a9a" stroke-width="1"/>
<line x1="27.00" y1="260.00" x2="27.00" y2="459.20" stroke="#8cc68c" stroke-width="1"/>
<line x1="309.30" y1="260.00" x2="309.30" y2="461.30" stroke="#9090c8" stroke-width="1"/>
<line x1="24.80" y1="260.00" x2="27.00" y2="260.00" stroke="#8cc68c" stroke-width="1"/>
<text x="0.00" y="0.00" font-size="5.9" fill="#3f8f3f" text-anchor="end" font-weight="normal" stroke="#3f8f3f" stroke-width="0.22" transform="translate(22.90 262.30) scale(0.915 1)">100</text>
<line x1="24.80" y1="299.84" x2="27.00" y2="299.84" stroke="#8cc68c" stroke-width="1"/>
<text x="0.00" y="0.00" font-size="5.9" fill="#3f8f3f" text-anchor="end" font-weight="normal" stroke="#3f8f3f" stroke-width="0.22" transform="translate(22.90 302.14) scale(0.915 1)">80</text>
<line x1="24.80" y1="339.68" x2="27.00" y2="339.68" stroke="#8cc68c" stroke-width="1"/>
<text x="0.00" y="0.00" font-size="5.9" fill="#3f8f3f" text-anchor="end" font-weight="normal" stroke="#3f8f3f" stroke-width="0.22" transform="translate(22.90 341.98) scale(0.915 1)">60</text>
<line x1="24.80" y1="379.52" x2="27.00" y2="379.52" stroke="#8cc68c" stroke-width="1"/>
<text x="0.00" y="0.00" font-size="5.9" fill="#3f8f3f" text-anchor="end" font-weight="normal" stroke="#3f8f3f" stroke-width="0.22" transform="translate(22.90 381.82) scale(0.915 1)">40</text>
<line x1="24.80" y1="419.36" x2="27.00" y2="419.36" stroke="#8cc68c" stroke-width="1"/>
<text x="0.00" y="0.00" font-size="5.9" fill="#3f8f3f" text-anchor="end" font-weight="normal" stroke="#3f8f3f" stroke-width="0.22" transform="translate(22.90 421.66) scale(0.915 1)">20</text>
<line x1="24.80" y1="459.20" x2="27.00" y2="459.20" stroke="#8cc68c" stroke-width="1"/>
<text x="0.00" y="0.00" font-size="5.9" fill="#3f8f3f" text-anchor="end" font-weight="normal" stroke="#3f8f3f" stroke-width="0.22" transform="translate(22.90 461.50) scale(0.915 1)">0</text>
<line x1="25.40" y1="269.96" x2="27.00" y2="269.96" stroke="#8cc68c" stroke-width="1"/>
<line x1="25.40" y1="279.92" x2="27.00" y2="279.92" stroke="#8cc68c" stroke-width="1"/>
<line x1="25.40" y1="289.88" x2="27.00" y2="289.88" stroke="#8cc68c" stroke-width="1"/>
<line x1="25.40" y1="309.80" x2="27.00" y2="309.80" stroke="#8cc68c" stroke-width="1"/>
<line x1="25.40" y1="319.76" x2="27.00" y2="319.76" stroke="#8cc68c" stroke-width="1"/>
<line x1="25.40" y1="329.72" x2="27.00" y2="329.72" stroke="#8cc68c" stroke-width="1"/>
<line x1="25.40" y1="349.64" x2="27.00" y2="349.64" stroke="#8cc68c" stroke-width="1"/>
<line x1="25.40" y1="359.60" x2="27.00" y2="359.60" stroke="#8cc68c" stroke-width="1"/>
<line x1="25.40" y1="369.56" x2="27.00" y2="369.56" stroke="#8cc68c" stroke-width="1"/>
<line x1="25.40" y1="389.48" x2="27.00" y2="389.48" stroke="#8cc68c" stroke-width="1"/>
<line x1="25.40" y1="399.44" x2="27.00" y2="399.44" stroke="#8cc68c" stroke-width="1"/>
<line x1="25.40" y1="409.40" x2="27.00" y2="409.40" stroke="#8cc68c" stroke-width="1"/>
<line x1="25.40" y1="429.32" x2="27.00" y2="429.32" stroke="#8cc68c" stroke-width="1"/>
<line x1="25.40" y1="439.28" x2="27.00" y2="439.28" stroke="#8cc68c" stroke-width="1"/>
<line x1="25.40" y1="449.24" x2="27.00" y2="449.24" stroke="#8cc68c" stroke-width="1"/>
<line x1="309.30" y1="260.00" x2="311.50" y2="260.00" stroke="#9090c8" stroke-width="1"/>
<text x="0.00" y="0.00" font-size="5.9" fill="#3b3ba0" text-anchor="start" font-weight="normal" stroke="#3b3ba0" stroke-width="0.22" transform="translate(313.20 262.30) scale(0.915 1)">2.5</text>
<line x1="309.30" y1="293.55" x2="311.50" y2="293.55" stroke="#9090c8" stroke-width="1"/>
<text x="0.00" y="0.00" font-size="5.9" fill="#3b3ba0" text-anchor="start" font-weight="normal" stroke="#3b3ba0" stroke-width="0.22" transform="translate(313.20 295.85) scale(0.915 1)">2.0</text>
<line x1="309.30" y1="327.10" x2="311.50" y2="327.10" stroke="#9090c8" stroke-width="1"/>
<text x="0.00" y="0.00" font-size="5.9" fill="#3b3ba0" text-anchor="start" font-weight="normal" stroke="#3b3ba0" stroke-width="0.22" transform="translate(313.20 329.40) scale(0.915 1)">1.5</text>
<line x1="309.30" y1="360.65" x2="311.50" y2="360.65" stroke="#9090c8" stroke-width="1"/>
<text x="0.00" y="0.00" font-size="5.9" fill="#3b3ba0" text-anchor="start" font-weight="normal" stroke="#3b3ba0" stroke-width="0.22" transform="translate(313.20 362.95) scale(0.915 1)">1.0</text>
<line x1="309.30" y1="394.20" x2="311.50" y2="394.20" stroke="#9090c8" stroke-width="1"/>
<text x="0.00" y="0.00" font-size="5.9" fill="#3b3ba0" text-anchor="start" font-weight="normal" stroke="#3b3ba0" stroke-width="0.22" transform="translate(313.20 396.50) scale(0.915 1)">0.5</text>
<line x1="309.30" y1="427.75" x2="311.50" y2="427.75" stroke="#9090c8" stroke-width="1"/>
<text x="0.00" y="0.00" font-size="5.9" fill="#3b3ba0" text-anchor="start" font-weight="normal" stroke="#3b3ba0" stroke-width="0.22" transform="translate(313.20 430.05) scale(0.915 1)">0.0</text>
<line x1="309.30" y1="461.30" x2="311.50" y2="461.30" stroke="#9090c8" stroke-width="1"/>
<text x="0.00" y="0.00" font-size="5.9" fill="#3b3ba0" text-anchor="start" font-weight="normal" stroke="#3b3ba0" stroke-width="0.22" transform="translate(313.20 463.60) scale(0.915 1)">-0.5</text>
<line x1="309.30" y1="268.39" x2="310.90" y2="268.39" stroke="#9090c8" stroke-width="1"/>
<line x1="309.30" y1="276.77" x2="310.90" y2="276.77" stroke="#9090c8" stroke-width="1"/>
<line x1="309.30" y1="285.16" x2="310.90" y2="285.16" stroke="#9090c8" stroke-width="1"/>
<line x1="309.30" y1="301.94" x2="310.90" y2="301.94" stroke="#9090c8" stroke-width="1"/>
<line x1="309.30" y1="310.32" x2="310.90" y2="310.32" stroke="#9090c8" stroke-width="1"/>
<line x1="309.30" y1="318.71" x2="310.90" y2="318.71" stroke="#9090c8" stroke-width="1"/>
<line x1="309.30" y1="335.49" x2="310.90" y2="335.49" stroke="#9090c8" stroke-width="1"/>
<line x1="309.30" y1="343.88" x2="310.90" y2="343.88" stroke="#9090c8" stroke-width="1"/>
<line x1="309.30" y1="352.26" x2="310.90" y2="352.26" stroke="#9090c8" stroke-width="1"/>
<line x1="309.30" y1="369.04" x2="310.90" y2="369.04" stroke="#9090c8" stroke-width="1"/>
<line x1="309.30" y1="377.43" x2="310.90" y2="377.43" stroke="#9090c8" stroke-width="1"/>
<line x1="309.30" y1="385.81" x2="310.90" y2="385.81" stroke="#9090c8" stroke-width="1"/>
<line x1="309.30" y1="402.59" x2="310.90" y2="402.59" stroke="#9090c8" stroke-width="1"/>
<line x1="309.30" y1="410.98" x2="310.90" y2="410.98" stroke="#9090c8" stroke-width="1"/>
<line x1="309.30" y1="419.36" x2="310.90" y2="419.36" stroke="#9090c8" stroke-width="1"/>
<line x1="309.30" y1="436.14" x2="310.90" y2="436.14" stroke="#9090c8" stroke-width="1"/>
<line x1="309.30" y1="444.52" x2="310.90" y2="444.52" stroke="#9090c8" stroke-width="1"/>
<line x1="309.30" y1="452.91" x2="310.90" y2="452.91" stroke="#9090c8" stroke-width="1"/>
<line x1="27.00" y1="461.30" x2="27.00" y2="463.50" stroke="#9a9a9a" stroke-width="1"/>
<text x="0.00" y="0.00" font-size="5.9" fill="#333" text-anchor="middle" font-weight="normal" stroke="#333" stroke-width="0.22" transform="translate(27.00 468.60) scale(0.915 1)">0</text>
<line x1="83.46" y1="461.30" x2="83.46" y2="463.50" stroke="#9a9a9a" stroke-width="1"/>
<text x="0.00" y="0.00" font-size="5.9" fill="#333" text-anchor="middle" font-weight="normal" stroke="#333" stroke-width="0.22" transform="translate(83.46 468.60) scale(0.915 1)">200</text>
<line x1="139.92" y1="461.30" x2="139.92" y2="463.50" stroke="#9a9a9a" stroke-width="1"/>
<text x="0.00" y="0.00" font-size="5.9" fill="#333" text-anchor="middle" font-weight="normal" stroke="#333" stroke-width="0.22" transform="translate(139.92 468.60) scale(0.915 1)">400</text>
<line x1="196.38" y1="461.30" x2="196.38" y2="463.50" stroke="#9a9a9a" stroke-width="1"/>
<text x="0.00" y="0.00" font-size="5.9" fill="#333" text-anchor="middle" font-weight="normal" stroke="#333" stroke-width="0.22" transform="translate(196.38 468.60) scale(0.915 1)">600</text>
<line x1="252.84" y1="461.30" x2="252.84" y2="463.50" stroke="#9a9a9a" stroke-width="1"/>
<text x="0.00" y="0.00" font-size="5.9" fill="#333" text-anchor="middle" font-weight="normal" stroke="#333" stroke-width="0.22" transform="translate(252.84 468.60) scale(0.915 1)">800</text>
<line x1="309.30" y1="461.30" x2="309.30" y2="463.50" stroke="#9a9a9a" stroke-width="1"/>
<text x="0.00" y="0.00" font-size="5.9" fill="#333" text-anchor="middle" font-weight="normal" stroke="#333" stroke-width="0.22" transform="translate(309.30 468.60) scale(0.915 1)">1000</text>
<line x1="41.12" y1="461.30" x2="41.12" y2="462.80" stroke="#9a9a9a" stroke-width="1"/>
<line x1="55.23" y1="461.30" x2="55.23" y2="462.80" stroke="#9a9a9a" stroke-width="1"/>
<line x1="69.34" y1="461.30" x2="69.34" y2="462.80" stroke="#9a9a9a" stroke-width="1"/>
<line x1="97.58" y1="461.30" x2="97.58" y2="462.80" stroke="#9a9a9a" stroke-width="1"/>
<line x1="111.69" y1="461.30" x2="111.69" y2="462.80" stroke="#9a9a9a" stroke-width="1"/>
<line x1="125.81" y1="461.30" x2="125.81" y2="462.80" stroke="#9a9a9a" stroke-width="1"/>
<line x1="154.03" y1="461.30" x2="154.03" y2="462.80" stroke="#9a9a9a" stroke-width="1"/>
<line x1="168.15" y1="461.30" x2="168.15" y2="462.80" stroke="#9a9a9a" stroke-width="1"/>
<line x1="182.26" y1="461.30" x2="182.26" y2="462.80" stroke="#9a9a9a" stroke-width="1"/>
<line x1="210.50" y1="461.30" x2="210.50" y2="462.80" stroke="#9a9a9a" stroke-width="1"/>
<line x1="224.61" y1="461.30" x2="224.61" y2="462.80" stroke="#9a9a9a" stroke-width="1"/>
<line x1="238.72" y1="461.30" x2="238.72" y2="462.80" stroke="#9a9a9a" stroke-width="1"/>
<line x1="266.96" y1="461.30" x2="266.96" y2="462.80" stroke="#9a9a9a" stroke-width="1"/>
<line x1="281.07" y1="461.30" x2="281.07" y2="462.80" stroke="#9a9a9a" stroke-width="1"/>
<line x1="295.19" y1="461.30" x2="295.19" y2="462.80" stroke="#9a9a9a" stroke-width="1"/>
<text x="168.20" y="252.30" font-size="8.4" fill="#222" text-anchor="middle" font-weight="normal" stroke="#222" stroke-width="0.22" textLength="16.3" lengthAdjust="spacingAndGlyphs">TGA</text>
<text x="39.30" y="279.90" font-size="18.8" fill="#000" text-anchor="start" font-weight="bold">c</text>
<text x="6.40" y="361.20" font-size="6.4" fill="#3f8f3f" text-anchor="middle" font-weight="normal" stroke="#3f8f3f" stroke-width="0.15" transform="rotate(-90 6.40 361.20)">Weight (%)</text>
<text x="334.00" y="362.00" font-size="6.5" fill="#3b3ba0" text-anchor="middle" font-weight="normal" stroke="#3b3ba0" stroke-width="0.15" transform="rotate(-90 334.00 362.00)">Deriv. Weight (%/°C)</text>
<text x="169.40" y="478.00" font-size="6.35" fill="#2a2a2a" text-anchor="middle" font-weight="normal" stroke="#2a2a2a" stroke-width="0.1">Temperature (°C)</text>
<text x="275.50" y="477.00" font-size="4.5" fill="#333" text-anchor="start" font-weight="normal" stroke="#333" stroke-width="0.08">Universal V4.7A TA Instruments</text>
<polyline points="38.70,260.30 41.13,260.29 44.58,260.27 48.57,260.26 52.61,260.26 56.20,260.30 59.31,260.32 62.25,260.31 65.10,260.36 67.93,260.53 70.80,260.90 73.67,261.55 76.50,262.42 79.35,263.40 82.29,264.40 85.40,265.30 88.81,266.10 92.47,266.88 96.18,267.63 99.72,268.37 102.90,269.10 105.56,269.82 107.86,270.52 109.99,271.21 112.17,271.90 114.60,272.60 117.33,273.32 120.23,274.06 123.22,274.79 126.23,275.48 129.20,276.10 132.17,276.67 135.20,277.20 138.20,277.67 141.10,278.08 143.80,278.40 146.34,278.60 148.76,278.71 151.04,278.75 153.13,278.76 155.00,278.80 156.62,278.85 158.00,278.88 159.20,278.92 160.28,278.95 161.30,279.00 162.15,279.02 162.78,279.02 163.37,279.04 164.06,279.14 165.00,279.40 166.30,279.80 167.85,280.30 169.50,280.91 171.10,281.64 172.50,282.50 173.68,283.50 174.74,284.64 175.71,285.89 176.62,287.25 177.50,288.70 178.32,290.22 179.07,291.82 179.78,293.53 180.47,295.38 181.20,297.40 181.96,299.54 182.72,301.76 183.48,304.17 184.24,306.85 185.00,309.90 185.78,313.28 186.58,316.92 187.37,320.88 188.09,325.22 188.70,330.00 189.16,335.33 189.50,341.19 189.79,347.38 190.07,353.71 190.40,360.00 190.78,366.18 191.18,372.37 191.60,378.67 192.04,385.18 192.50,392.00 193.02,399.60 193.60,407.92 194.19,416.24 194.74,423.84 195.20,430.00 195.55,434.41 195.83,437.54 196.06,439.88 196.28,441.87 196.50,444.00 196.73,446.29 196.94,448.43 197.15,450.38 197.36,452.08 197.60,453.50 197.81,454.55 198.00,455.27 198.22,455.77 198.53,456.17 199.00,456.60 199.53,457.04 200.09,457.42 200.81,457.75 201.83,458.04 203.30,458.30 205.19,458.53 207.40,458.71 209.98,458.86 212.97,458.99 216.40,459.10 220.19,459.20 224.30,459.27 228.88,459.32 234.07,459.36 240.00,459.40 247.58,459.43 256.70,459.46 266.03,459.48 274.21,459.49 279.90,459.50" fill="none" stroke="#62a866" stroke-width="1" stroke-linejoin="round" stroke-linecap="round"/>
<polyline points="38.60,427.20 40.16,427.19 42.37,427.17 44.94,427.14 47.58,427.12 50.00,427.10 52.21,427.10 54.40,427.11 56.55,427.12 58.66,427.09 60.70,427.00 62.63,426.84 64.46,426.63 66.25,426.38 68.08,426.10 70.00,425.80 72.15,425.45 74.49,425.03 76.81,424.60 78.91,424.24 80.60,424.00 81.72,423.90 82.40,423.90 82.87,423.97 83.36,424.08 84.10,424.20 85.09,424.34 86.18,424.51 87.37,424.71 88.64,424.91 90.00,425.10 91.53,425.30 93.24,425.52 95.00,425.73 96.66,425.90 98.10,426.00 99.22,426.02 100.11,425.98 100.92,425.89 101.77,425.76 102.80,425.60 104.00,425.36 105.27,425.04 106.64,424.71 108.14,424.41 109.80,424.20 111.81,424.09 114.14,424.03 116.52,424.03 118.66,424.09 120.30,424.20 121.28,424.42 121.79,424.76 122.05,425.12 122.28,425.43 122.70,425.60 123.26,425.58 123.80,425.43 124.42,425.22 125.19,425.02 126.20,424.90 127.56,424.87 129.21,424.89 131.00,424.94 132.75,425.01 134.30,425.10 135.54,425.20 136.59,425.31 137.60,425.45 138.75,425.61 140.20,425.80 142.03,426.07 144.12,426.42 146.38,426.77 148.67,427.06 150.90,427.20 153.15,427.17 155.48,427.02 157.78,426.79 159.93,426.54 161.80,426.30 163.35,426.10 164.66,425.90 165.80,425.69 166.83,425.43 167.80,425.10 168.67,424.77 169.41,424.46 170.07,424.06 170.75,423.47 171.50,422.60 172.35,421.40 173.25,419.94 174.17,418.27 175.09,416.47 176.00,414.60 176.91,412.68 177.83,410.66 178.74,408.52 179.60,406.21 180.40,403.70 181.11,400.96 181.77,398.00 182.37,394.89 182.95,391.67 183.50,388.40 184.06,384.76 184.63,380.72 185.15,376.75 185.58,373.32 188.50,340.00 190.60,310.00 192.50,287.50 193.70,281.60 195.00,287.50 196.10,310.00 197.20,340.00 198.20,370.00 199.40,424.60 199.62,424.87 199.92,425.26 200.36,425.67 201.00,426.00 201.69,426.23 202.44,426.42 203.60,426.57 205.50,426.70 208.29,426.81 211.78,426.89 215.75,426.95 220.00,427.00 224.15,427.04 228.41,427.07 233.47,427.09 240.00,427.10 249.51,427.11 261.20,427.11 272.26,427.10 279.90,427.10" fill="none" stroke="#6262bc" stroke-width="1" stroke-linejoin="round" stroke-linecap="round"/>
<line x1="191.00" y1="281.40" x2="196.60" y2="281.40" stroke="#333" stroke-width="0.7"/>
<text x="184.30" y="274.20" font-size="4.85" fill="#222" text-anchor="start" font-weight="normal" stroke="#222" stroke-width="0.22">591.88°C</text>
<text x="184.30" y="280.10" font-size="4.85" fill="#222" text-anchor="start" font-weight="normal" stroke="#222" stroke-width="0.22">2.182%/°C</text>
</svg>
</body></html>
